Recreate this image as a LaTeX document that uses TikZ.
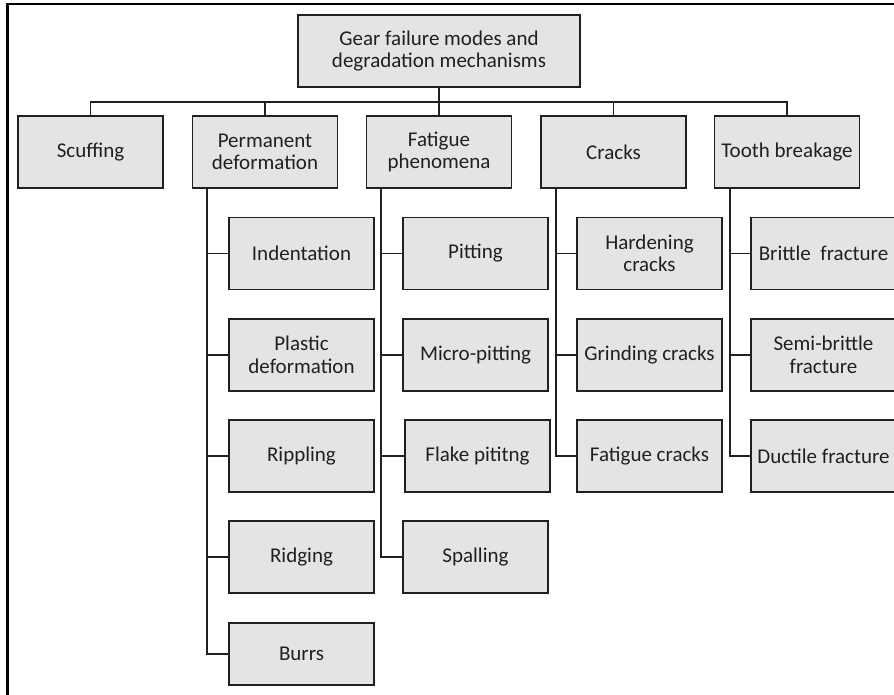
\documentclass[tikz,border=0pt]{standalone}
\usepackage{fontspec}
\setmainfont{Carlito}
\definecolor{boxfill}{HTML}{E3E4E6}
\definecolor{boxline}{HTML}{231F20}
\tikzset{
    mode/.style={draw=boxline, fill=boxfill, line width=1.4pt, minimum width=145pt,
        minimum height=72pt, align=center, inner sep=2pt, text=boxline,
        font=\fontsize{21}{22.5}\selectfont},
    link/.style={draw=boxline, line width=1.4pt},
    trunk/.style={draw=boxline, line width=2pt},
}
\begin{document}
\begin{tikzpicture}[x=1pt,y=-1pt]
            \useasboundingbox (0,0) rectangle (894,695);
            % Frame
            \draw[line width=2.5pt] (7.5,695) -- (7.5,4) -- (894,4);

            % Root node
            \node[mode, minimum width=282pt] (root) at (439,51) {Gear failure modes and\\degradation mechanisms};
            \coordinate (bus) at (439,102);

            % Second stage nodes
            \node[mode] (scuff) at (90.5,152) {Scuffing};
            \node[mode] (perm) at (265,152) {Permanent\\deformation};
            \node[mode] (fat) at (439,152) {Fatigue\\phenomena};
            \node[mode] (crack) at (613.5,152) {Cracks};
            \node[mode] (tooth) at (787,152) {Tooth breakage};

            % Edges
            \draw[link] (root) -- (bus);
            \draw[link] (bus) -| (scuff);
            \draw[link] (bus) -| (perm);
            \draw[link] (bus) -| (fat);
            \draw[link] (bus) -| (crack);
            \draw[link] (bus) -| (tooth);

            % Third stage nodes: permanent deformation
            \node[mode] (indent) at (301.5,253.5) {Indentation};
            \node[mode] (plastic) at (301.5,355) {Plastic\\deformation};
            \node[mode] (ripple) at (301.5,456) {Rippling};
            \node[mode] (ridge) at (301.5,557) {Ridging};
            \node[mode, minimum height=62pt] (burrs) at (301.5,654) {Burrs};

            % Third stage nodes: fatigue phenomena
            \node[mode] (pit) at (475.5,253.5) {Pitting};
            \node[mode] (micro) at (475.5,355) {Micro-pitting};
            \node[mode] (flake) at (477.5,456) {Flake pititng};
            \node[mode] (spall) at (475.5,557) {Spalling};

            % Third stage nodes: cracks
            \node[mode] (harden) at (649.5,253.5) {Hardening\\cracks};
            \node[mode] (grind) at (649.5,355) {Grinding cracks};
            \node[mode] (fcrack) at (649.5,456) {Fatigue cracks};

            % Third stage nodes: tooth breakage
            \node[mode] (brittle) at (823.5,253.5) {Brittle~ fracture};
            \node[mode] (semi) at (823.5,355) {Semi-brittle\\fracture};
            \node[mode] (ductile) at (823.5,456) {Ductile fracture};

            % Trunks
            \coordinate (permtop) at (207,188);
            \coordinate (fattop) at (381,188);
            \coordinate (cracktop) at (556,188);
            \coordinate (toothtop) at (730,188);

            % Edges
            \draw[trunk] (permtop) |- (burrs.west);
            \draw[link] (permtop |- indent.west) -- (indent.west);
            \draw[link] (permtop |- plastic.west) -- (plastic.west);
            \draw[link] (permtop |- ripple.west) -- (ripple.west);
            \draw[link] (permtop |- ridge.west) -- (ridge.west);

            \draw[trunk] (fattop) |- (spall.west);
            \draw[link] (fattop |- pit.west) -- (pit.west);
            \draw[link] (fattop |- micro.west) -- (micro.west);
            \draw[link] (fattop |- flake.west) -- (flake.west);

            \draw[trunk] (cracktop) |- (fcrack.west);
            \draw[link] (cracktop |- harden.west) -- (harden.west);
            \draw[link] (cracktop |- grind.west) -- (grind.west);

            \draw[trunk] (toothtop) |- (ductile.west);
            \draw[link] (toothtop |- brittle.west) -- (brittle.west);
            \draw[link] (toothtop |- semi.west) -- (semi.west);

        \end{tikzpicture}
\end{document}
